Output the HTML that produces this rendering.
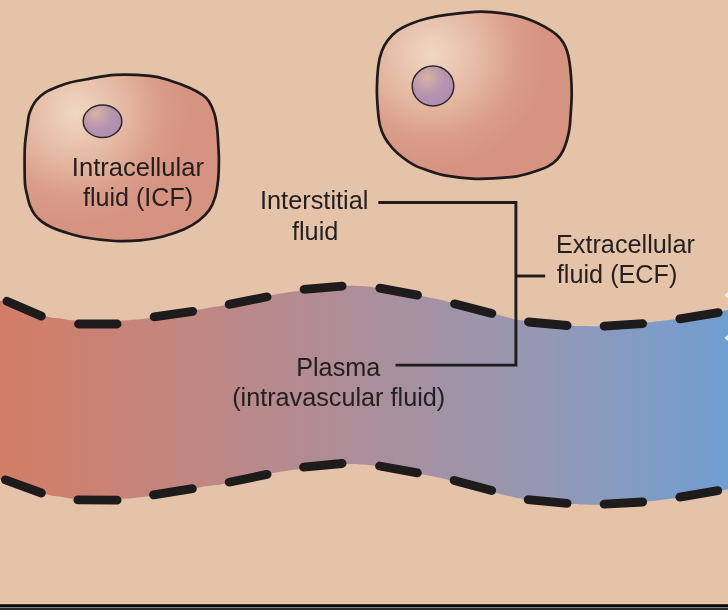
<!DOCTYPE html>
<html><head><meta charset="utf-8"><style>
html,body{margin:0;padding:0;background:#E4C3A8;}
body{width:728px;height:610px;overflow:hidden;position:relative;}
svg{position:absolute;left:0;top:0;}
#w{position:absolute;left:0;top:0;width:728px;height:610px;}
text{font-family:"Liberation Sans",sans-serif;fill:#231F20;}
.t{opacity:0.999;will-change:transform;}
</style></head><body><div id="w">
<svg width="728" height="610" viewBox="0 0 728 610">
<defs>
<radialGradient id="cg1" gradientUnits="userSpaceOnUse" cx="76" cy="112" r="112">
<stop offset="0" stop-color="#F0D8C4"/><stop offset="0.45" stop-color="#E4B7A1"/><stop offset="0.75" stop-color="#DA9D89"/><stop offset="1" stop-color="#D69381"/>
</radialGradient>
<radialGradient id="cg2" gradientUnits="userSpaceOnUse" cx="432" cy="54" r="114">
<stop offset="0" stop-color="#F0D8C4"/><stop offset="0.45" stop-color="#E4B7A1"/><stop offset="0.75" stop-color="#DA9D89"/><stop offset="1" stop-color="#D69381"/>
</radialGradient>
<radialGradient id="ng1" gradientUnits="userSpaceOnUse" cx="96" cy="113" r="28">
<stop offset="0" stop-color="#D6B3A2"/><stop offset="0.6" stop-color="#B592B0"/><stop offset="1" stop-color="#AF8EAE"/>
</radialGradient>
<radialGradient id="ng2" gradientUnits="userSpaceOnUse" cx="427" cy="78" r="30">
<stop offset="0" stop-color="#D6B3A2"/><stop offset="0.6" stop-color="#B592B0"/><stop offset="1" stop-color="#AF8EAE"/>
</radialGradient>
<linearGradient id="vg" gradientUnits="userSpaceOnUse" x1="0" y1="0" x2="728" y2="0">
<stop offset="0" stop-color="#D37D66"/><stop offset="0.25" stop-color="#C28680"/><stop offset="0.5" stop-color="#AC8E9A"/><stop offset="0.75" stop-color="#9498B4"/><stop offset="1" stop-color="#709ED2"/>
</linearGradient>
</defs>
<path d="M-15.0,299.5 C-10.0,299.9 -4.2,300.2 0.0,300.7 C4.2,301.2 6.0,301.3 10.0,302.6 C14.0,303.9 17.9,306.2 24.0,308.5 C30.1,310.8 40.8,314.8 46.9,316.5 C53.0,318.2 56.2,317.9 60.6,318.5 C65.0,319.1 66.8,319.9 73.0,320.3 C79.2,320.8 89.6,321.1 98.0,321.2 C106.4,321.2 116.9,320.9 123.2,320.6 C129.5,320.3 131.5,320.0 135.6,319.6 C139.7,319.2 141.8,319.1 148.0,318.2 C154.2,317.3 164.6,315.4 173.0,314.0 C181.4,312.6 191.9,310.7 198.2,309.6 C204.5,308.5 206.5,308.2 210.6,307.5 C214.7,306.8 216.8,306.7 223.0,305.5 C229.2,304.3 239.6,302.2 248.0,300.4 C256.4,298.6 266.9,296.1 273.2,294.8 C279.5,293.5 281.5,293.3 285.6,292.7 C289.7,292.1 291.8,291.8 298.0,291.0 C304.2,290.2 314.6,288.9 323.0,288.0 C331.4,287.1 341.9,286.1 348.2,285.8 C354.5,285.5 356.5,285.9 360.6,286.1 C364.7,286.3 366.8,286.3 373.0,287.2 C379.2,288.1 389.8,289.9 398.0,291.3 C406.2,292.8 415.6,294.6 422.1,295.9 C428.6,297.2 432.5,298.0 437.0,299.0 C441.5,300.0 443.1,300.4 449.1,302.0 C455.1,303.6 464.8,306.3 473.0,308.4 C481.2,310.5 491.9,313.2 498.2,314.8 C504.5,316.4 506.5,317.2 510.6,318.2 C514.7,319.2 516.8,319.7 523.0,320.6 C529.2,321.5 539.6,322.7 548.0,323.6 C556.4,324.5 566.9,325.5 573.2,325.9 C579.5,326.3 581.5,326.0 585.6,326.1 C589.7,326.2 591.8,326.5 598.0,326.3 C604.2,326.1 614.6,325.7 623.0,325.0 C631.4,324.3 641.9,323.0 648.2,322.3 C654.5,321.6 656.5,321.3 660.6,320.9 C664.7,320.4 666.6,320.5 673.0,319.6 C679.4,318.7 689.8,317.2 699.0,315.6 C708.2,314.0 720.3,311.5 728.0,310.0 C735.7,308.5 739.3,307.7 745.0,306.5 L745.0,486.0 C739.3,487.1 735.7,487.9 728.0,489.3 C720.3,490.7 708.2,492.7 699.0,494.2 C689.8,495.7 679.4,497.6 673.0,498.5 C666.6,499.4 664.7,499.4 660.6,499.9 C656.5,500.4 654.5,500.7 648.2,501.3 C641.9,501.9 631.4,502.9 623.0,503.5 C614.6,504.1 604.2,504.7 598.0,504.8 C591.8,504.9 589.7,504.5 585.6,504.4 C581.5,504.3 579.5,504.6 573.2,504.1 C566.9,503.7 556.6,502.6 548.0,501.7 C539.4,500.8 527.8,499.6 521.6,498.7 C515.4,497.8 514.5,497.2 510.6,496.3 C506.7,495.4 504.5,495.2 498.2,493.5 C491.9,491.8 481.4,488.6 473.0,486.3 C464.6,484.0 454.2,481.2 448.0,479.7 C441.8,478.1 439.7,477.9 435.6,477.0 C431.5,476.1 429.5,475.8 423.2,474.6 C416.9,473.4 406.4,471.1 398.0,469.6 C389.6,468.1 379.2,466.4 373.0,465.5 C366.8,464.6 364.7,464.6 360.6,464.4 C356.5,464.2 354.5,463.8 348.2,464.1 C341.9,464.4 331.4,465.1 323.0,466.0 C314.6,466.9 304.2,468.4 298.0,469.2 C291.8,470.0 289.7,470.3 285.6,470.9 C281.5,471.5 279.5,471.7 273.2,473.0 C266.9,474.3 256.4,476.7 248.0,478.5 C239.6,480.3 229.2,482.7 223.0,483.9 C216.8,485.1 214.7,485.0 210.6,485.6 C206.5,486.2 204.5,486.6 198.2,487.7 C191.9,488.8 181.4,490.6 173.0,492.0 C164.6,493.4 154.2,495.4 148.0,496.3 C141.8,497.2 139.7,497.3 135.6,497.7 C131.5,498.1 129.5,498.4 123.2,498.7 C116.9,499.0 106.6,499.6 98.0,499.6 C89.4,499.6 77.8,499.0 71.6,498.5 C65.4,498.0 64.5,497.4 60.6,496.8 C56.7,496.2 54.3,496.4 48.2,494.8 C42.1,493.2 32.0,489.6 24.0,487.0 C16.0,484.4 6.5,481.4 0.0,479.5 C-6.5,477.6 -10.0,476.8 -15.0,475.5Z" fill="url(#vg)"/>
<path d="M6.9,301.2L41.4,316.1M78.5,324L117.1,324M154.1,316.8L192.7,311.3M229.1,304.4L267.1,296.8M304.1,289.3L342.1,286.1M379.8,288.2L417.5,295.1M454.5,303.8L491.9,313.4M528.5,322L567.1,325.5M604.1,326.1L642.7,323.7M679.8,318.9L718.2,312.6M5.4,479.8L41.4,493M77.8,499.9L117.1,500.1M153.5,494.9L192.4,488.7M229.1,482.2L267.1,474.4M303.5,467.2L342.1,463.5M379.5,466L417.4,472.9M454.1,480.4L491.7,490.5M528.1,499.7L567.1,503.4M604.1,504.1L642.7,502M679.8,497.2L717.7,490.7" stroke="#1E1B1C" stroke-width="8.8" stroke-linecap="round" fill="none"/>
<path d="M115.0,74.8 C125.2,74.3 140.9,75.0 150.0,75.9 C159.1,76.9 163.1,78.5 169.7,80.5 C176.2,82.5 183.8,85.3 189.3,87.7 C194.8,90.1 199.2,92.6 202.5,94.9 C205.8,97.2 207.0,98.4 209.0,101.5 C211.0,104.6 213.0,109.1 214.3,113.3 C215.6,117.5 216.2,121.4 216.9,126.4 C217.6,131.4 217.9,137.8 218.2,143.4 C218.5,149.0 218.9,154.0 218.9,160.0 C218.9,166.0 218.8,173.0 218.2,179.2 C217.6,185.3 216.7,191.8 215.2,196.9 C213.7,202.1 212.0,206.2 209.3,210.1 C206.6,214.0 203.2,217.3 199.0,220.5 C194.8,223.7 190.3,226.6 184.2,229.3 C178.0,232.0 169.5,234.8 162.1,236.7 C154.7,238.5 147.8,239.7 140.0,240.4 C132.2,241.1 124.2,241.5 115.0,241.0 C105.8,240.5 93.4,239.0 85.0,237.5 C76.6,236.0 70.2,233.8 64.6,232.1 C59.0,230.4 55.2,229.0 51.4,227.2 C47.5,225.4 44.2,223.5 41.5,221.4 C38.8,219.3 36.8,217.4 34.9,214.8 C33.0,212.2 31.3,209.0 30.0,205.7 C28.7,202.4 27.9,198.6 27.1,195.0 C26.3,191.4 25.4,189.5 25.0,184.0 C24.6,178.5 24.6,168.6 24.6,162.0 C24.6,155.4 24.5,150.3 25.0,144.2 C25.5,138.1 26.7,130.4 27.4,125.5 C28.1,120.6 28.2,118.0 29.0,114.9 C29.8,111.8 31.1,109.2 32.3,106.7 C33.5,104.2 34.3,102.4 36.4,100.1 C38.5,97.8 41.2,95.0 44.6,92.8 C48.0,90.6 52.7,88.7 56.9,87.0 C61.1,85.3 64.7,83.8 70.0,82.5 C75.3,81.2 81.3,80.2 88.8,78.9 C96.3,77.6 104.8,75.3 115.0,74.8Z" fill="url(#cg1)" stroke="#1E1B1C" stroke-width="2.7"/>
<ellipse cx="102.5" cy="121.25" rx="19.3" ry="16.3" fill="url(#ng1)" stroke="#2E2829" stroke-width="1.5"/>
<path d="M475.0,11.9 C482.6,11.4 484.9,11.6 491.6,12.2 C498.3,12.8 508.6,14.1 515.0,15.3 C521.4,16.6 524.8,17.8 529.7,19.7 C534.6,21.6 540.1,24.1 544.5,26.6 C548.9,29.1 553.2,31.9 556.3,34.5 C559.4,37.1 561.4,39.6 563.2,42.4 C565.0,45.2 566.0,47.8 567.1,51.2 C568.2,54.6 569.0,58.9 569.6,63.0 C570.2,67.1 570.6,70.6 571.0,76.0 C571.4,81.4 571.8,88.7 571.7,95.2 C571.6,101.7 571.0,109.6 570.6,115.0 C570.2,120.4 570.2,123.7 569.6,127.8 C569.0,131.9 568.2,135.8 567.1,139.6 C566.0,143.4 564.8,147.1 563.2,150.4 C561.6,153.7 559.8,156.6 557.3,159.2 C554.8,161.8 552.2,164.0 548.4,166.1 C544.6,168.2 539.9,169.8 534.7,171.5 C529.5,173.2 523.3,175.2 517.0,176.3 C510.7,177.4 504.0,177.8 497.0,178.2 C490.0,178.6 483.5,179.2 475.0,178.8 C466.5,178.4 454.5,177.2 446.2,175.7 C437.9,174.1 430.3,171.3 425.0,169.5 C419.7,167.7 418.0,167.2 414.2,165.1 C410.4,163.0 406.0,160.0 402.4,157.2 C398.8,154.4 395.6,151.6 392.6,148.3 C389.7,145.0 386.8,141.4 384.7,137.5 C382.6,133.6 380.9,129.3 379.8,124.7 C378.7,120.1 378.4,115.8 377.9,110.0 C377.4,104.2 376.8,97.3 376.9,90.0 C377.0,82.7 377.5,72.5 378.3,66.0 C379.1,59.5 380.2,55.6 381.8,51.3 C383.4,47.0 385.1,43.8 387.7,40.4 C390.3,37.0 393.4,33.5 397.5,30.6 C401.6,27.7 407.1,25.2 412.2,23.2 C417.3,21.1 422.3,19.7 428.0,18.3 C433.7,16.9 438.4,16.0 446.2,14.9 C454.0,13.8 467.4,12.4 475.0,11.9Z" fill="url(#cg2)" stroke="#1E1B1C" stroke-width="2.7"/>
<ellipse cx="433" cy="86" rx="20.8" ry="19.9" fill="url(#ng2)" stroke="#2E2829" stroke-width="1.5"/>
<g stroke="#1E1B1C" stroke-width="2.9" fill="none">
<path d="M378.3,202.5H515.9V365.1H395.6"/>
<path d="M515.9,276H545.2"/>
</g>
<g font-size="26" class="t">
<text transform="translate(71.84,176.1) scale(0.9833,1)">Intracellular</text>
<text transform="translate(82.96,206.0) scale(0.9666,1)">fluid (ICF)</text>
<text transform="translate(259.96,209.1) scale(0.9757,1)">Interstitial</text>
<text transform="translate(291.96,239.7) scale(0.9727,1)">fluid</text>
<text transform="translate(296.22,375.5) scale(0.9692,1)">Plasma</text>
<text transform="translate(232.14,406.0) scale(0.9704,1)">(intravascular fluid)</text>
<text transform="translate(555.91,252.7) scale(0.9725,1)">Extracellular</text>
<text transform="translate(556.86,283.4) scale(0.9701,1)">fluid (ECF)</text>
</g>
<path d="M729,292.3 L725.6,295.2 L729,298.2Z" fill="#F8EFEA" stroke="#F8EFEA" stroke-width="1.6" stroke-linejoin="round"/>
<path d="M729,335.3 L725.6,338 L729,340.6Z" fill="#E4ECF6" stroke="#E4ECF6" stroke-width="1.6" stroke-linejoin="round"/>
<rect x="0" y="603" width="728" height="1" fill="#EBCCB0"/>
<rect x="0" y="604" width="728" height="1" fill="#3A2E28"/>
<rect x="0" y="605" width="728" height="2" fill="#0A0708"/>
<rect x="0" y="607" width="728" height="1" fill="#7E7E7E"/>
<rect x="0" y="608" width="728" height="2" fill="#2A2A2A"/>
</svg></div>
</body></html>
